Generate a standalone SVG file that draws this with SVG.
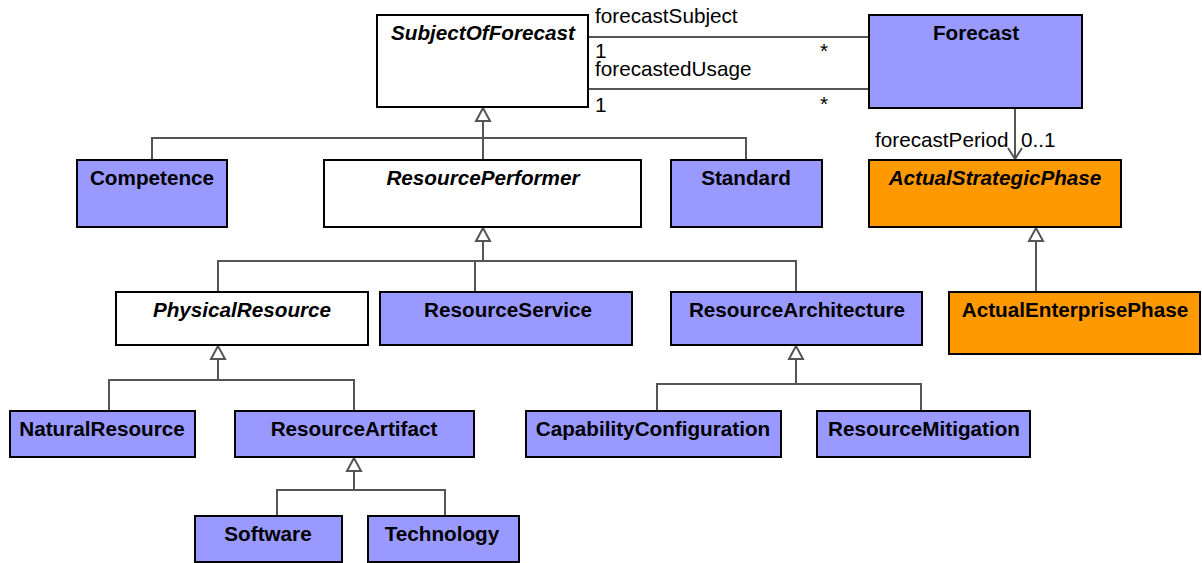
<svg xmlns="http://www.w3.org/2000/svg" width="1202" height="563" viewBox="0 0 1202 563">
<style>
.box{stroke:#000;stroke-width:2}
.b{fill:#9999ff}
.o{fill:#ff9900}
.w{fill:#fff}
.t{font-family:"Liberation Sans",Arial,sans-serif;font-size:20.7px;font-weight:bold;text-anchor:middle;fill:#000}
.i{font-style:italic}
.l{font-family:"Liberation Sans",Arial,sans-serif;font-size:20.7px;fill:#000}
.c{stroke:#555;stroke-width:2;fill:none}
.tri{stroke:#555;stroke-width:2;fill:#fff}
</style>
<g id="connectors">
<line class="c" x1="588" y1="37" x2="869" y2="37"/>
<line class="c" x1="588" y1="89" x2="869" y2="89"/>
<text class="l" x="595" y="23">forecastSubject</text>
<text class="l" x="595" y="58">1</text>
<text class="l" x="820" y="58">*</text>
<text class="l" x="595" y="76">forecastedUsage</text>
<text class="l" x="595" y="112">1</text>
<text class="l" x="820" y="111">*</text>
<line class="c" x1="1015" y1="108" x2="1015" y2="159"/>
<polyline class="c" points="1008,148 1015,159 1022,148"/>
<text class="l" x="875" y="147">forecastPeriod</text>
<text class="l" x="1021" y="147">0..1</text>
<polyline class="c" points="152,160 152,138 746,138 746,160"/>
<line class="c" x1="483" y1="121" x2="483" y2="160"/>
<polygon class="tri" points="483,108 476,121 490,121"/>
<polyline class="c" points="218,292 218,261 796,261 796,292"/>
<line class="c" x1="483" y1="241" x2="483" y2="261"/>
<line class="c" x1="475" y1="261" x2="475" y2="292"/>
<polygon class="tri" points="483,228 476,241 490,241"/>
<line class="c" x1="1036" y1="241" x2="1036" y2="292"/>
<polygon class="tri" points="1036,228 1029,241 1043,241"/>
<polyline class="c" points="109,411 109,380 354,380 354,411"/>
<line class="c" x1="218" y1="359" x2="218" y2="380"/>
<polygon class="tri" points="218,346 211,359 225,359"/>
<polyline class="c" points="657,411 657,384 921,384 921,411"/>
<line class="c" x1="796" y1="359" x2="796" y2="384"/>
<polygon class="tri" points="796,346 789,359 803,359"/>
<polyline class="c" points="277,516 277,490 445,490 445,516"/>
<line class="c" x1="354" y1="471" x2="354" y2="490"/>
<polygon class="tri" points="354,458 347,471 361,471"/>
</g>
<g id="SubjectOfForecast"><rect class="box w" x="377" y="15" width="211" height="92"/><text class="t i" x="483" y="40">SubjectOfForecast</text></g>
<g id="Forecast"><rect class="box b" x="869" y="15" width="213" height="93"/><text class="t" x="976" y="40">Forecast</text></g>
<g id="Competence"><rect class="box b" x="77" y="160" width="150" height="67"/><text class="t" x="152" y="185">Competence</text></g>
<g id="ResourcePerformer"><rect class="box w" x="324" y="160" width="317" height="67"/><text class="t i" x="483" y="185">ResourcePerformer</text></g>
<g id="Standard"><rect class="box b" x="671" y="160" width="151" height="67"/><text class="t" x="746" y="185">Standard</text></g>
<g id="ActualStrategicPhase"><rect class="box o" x="869" y="160" width="252" height="67"/><text class="t i" x="995" y="185">ActualStrategicPhase</text></g>
<g id="PhysicalResource"><rect class="box w" x="116" y="292" width="252" height="53"/><text class="t i" x="242" y="317">PhysicalResource</text></g>
<g id="ResourceService"><rect class="box b" x="380" y="292" width="252" height="53"/><text class="t" x="508" y="317">ResourceService</text></g>
<g id="ResourceArchitecture"><rect class="box b" x="671" y="292" width="251" height="53"/><text class="t" x="797" y="317">ResourceArchitecture</text></g>
<g id="ActualEnterprisePhase"><rect class="box o" x="949" y="292" width="251" height="62"/><text class="t" x="1075" y="317">ActualEnterprisePhase</text></g>
<g id="NaturalResource"><rect class="box b" x="10" y="411" width="185" height="46"/><text class="t" x="102" y="436">NaturalResource</text></g>
<g id="ResourceArtifact"><rect class="box b" x="235" y="411" width="239" height="46"/><text class="t" x="354" y="436">ResourceArtifact</text></g>
<g id="CapabilityConfiguration"><rect class="box b" x="526" y="411" width="255" height="46"/><text class="t" x="653" y="436">CapabilityConfiguration</text></g>
<g id="ResourceMitigation"><rect class="box b" x="817" y="411" width="213" height="46"/><text class="t" x="924" y="436">ResourceMitigation</text></g>
<g id="Software"><rect class="box b" x="195" y="516" width="147" height="46"/><text class="t" x="268" y="541">Software</text></g>
<g id="Technology"><rect class="box b" x="368" y="516" width="151" height="46"/><text class="t" x="442" y="541">Technology</text></g>
</svg>
